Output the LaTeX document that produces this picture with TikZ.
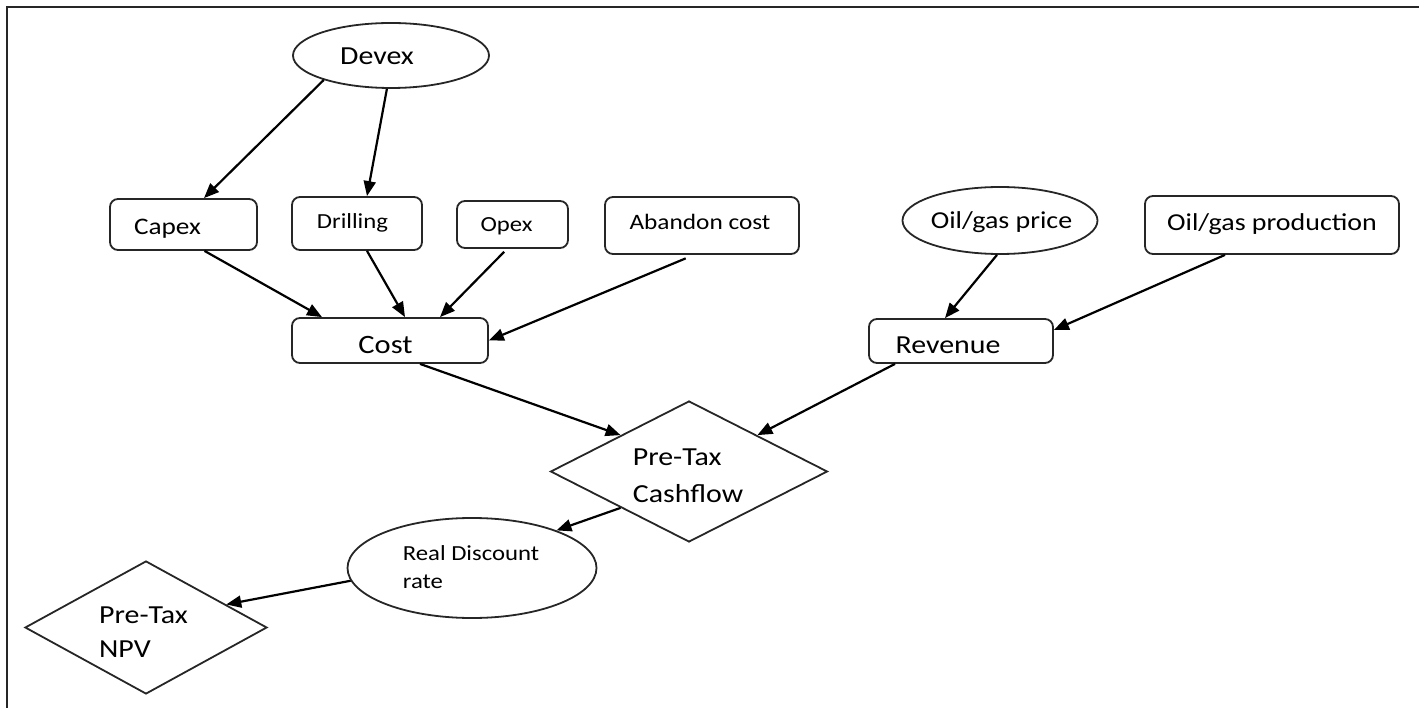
\documentclass[tikz,border=0pt]{standalone}
\usepackage{fontspec}
\setmainfont[FakeStretch=1.15]{Carlito}
\usetikzlibrary{shapes.geometric,arrows.meta}
\tikzset{
  box/.style={draw=black!85, line width=1.8pt, rounded corners=8pt, inner sep=0pt},
  oval/.style={draw=black!85, line width=1.8pt, ellipse, inner sep=0pt},
  dia/.style={draw=black!85, line width=1.8pt, diamond, inner sep=0pt},
  arr/.style={line width=2.2pt, -{Triangle[length=15pt,width=12pt]}},
  frame/.style={line width=2pt, black!85}
}
\newcommand{\fs}[2]{\fontsize{#1}{#2}\selectfont}
% single line text, shifted by (dx,dy) from the node centre
\newcommand{\tx}[3]{\kern#1\relax\makebox[0pt]{\raisebox{\dimexpr#2-0.32em\relax}[0pt][0pt]{#3}}\kern-#1\relax}
% multi line text block, left aligned
\newcommand{\txx}[3]{\kern#1\relax\makebox[0pt]{\raisebox{\dimexpr#2-0.25em\relax}[0pt][0pt]{\begin{tabular}[c]{@{}l@{}}#3\end{tabular}}}\kern-#1\relax}
\begin{document}
\begin{tikzpicture}[x=1pt,y=-1pt]
\useasboundingbox (0,0) rectangle (1419,708);
\draw[frame] (7,708) -- (7,7) -- (1419,7);

\node[oval, minimum width=196pt, minimum height=65pt, font=\fs{26}{30}] (devex) at (391,55.5) {\tx{-14pt}{-1pt}{Devex}};
\node[box, minimum width=147pt, minimum height=51pt, font=\fs{23.7}{28}] (capex) at (183.5,224.5) {\tx{-16pt}{-2pt}{Capex}};
\node[box, minimum width=130pt, minimum height=53pt, font=\fs{21.5}{26}] (drilling) at (357,223.5) {\tx{-4.5pt}{1.5pt}{Drilling}};
\node[box, minimum width=111pt, minimum height=47pt, font=\fs{21.5}{26}] (opex) at (512.5,224.5) {\tx{-6pt}{0pt}{Opex}};
\node[box, minimum width=194pt, minimum height=57pt, font=\fs{22}{26}] (abandon) at (702,225.5) {\tx{-2pt}{3pt}{Abandon cost}};
\node[oval, minimum width=195pt, minimum height=67pt, font=\fs{24.3}{28}] (price) at (1000,220.5) {\tx{1.5pt}{0pt}{Oil/gas price}};
\node[box, minimum width=254pt, minimum height=58pt, font=\fs{24.3}{28}] (production) at (1272,225) {\tx{0pt}{2pt}{Oil/gas production}};
\node[box, minimum width=196pt, minimum height=45pt, font=\fs{26.5}{30}] (cost) at (390,340.5) {\tx{-4.5pt}{-4.5pt}{Cost}};
\node[box, minimum width=184pt, minimum height=44pt, font=\fs{26}{30}] (revenue) at (961,341) {\tx{-13pt}{-4pt}{Revenue}};
\node[dia, minimum width=277pt, minimum height=141pt, font=\fs{26}{37}] (cashflow) at (689,471.5) {\txx{-1pt}{-5pt}{Pre-Tax\\Cashflow}};
\node[oval, minimum width=249pt, minimum height=100pt, font=\fs{21.5}{28}] (discount) at (472,568) {\txx{-1pt}{-1pt}{Real Discount\\rate}};
\node[dia, minimum width=242pt, minimum height=133pt, font=\fs{26}{34}] (npv) at (146,627.5) {\txx{-2.5pt}{-5.5pt}{Pre-Tax\\NPV}};

\draw[arr] (devex.200) -- ([xshift=20.5pt]capex.north);
\draw[arr] (devex.263) -- ([xshift=10pt]drilling.north);
\draw[arr] ([xshift=21pt]capex.south) -- ([xshift=-68pt]cost.north);
\draw[arr] ([xshift=10pt]drilling.south) -- ([xshift=15pt]cost.north);
\draw[arr, shorten <=4pt] ([xshift=-5.5pt]opex.south) -- ([xshift=50pt]cost.north);
\draw[arr, shorten <=9pt] ([xshift=-8pt]abandon.south) -- (cost.east);
\draw[arr] (price.265) -- ([xshift=-16pt]revenue.north);
\draw[arr] ([xshift=-47pt]production.south) -- ([yshift=11pt]revenue.east);
\draw[arr] ([xshift=30pt]cost.south) -- (cashflow.152);
\draw[arr] ([xshift=-66pt]revenue.south) -- (cashflow.28);
\draw[arr] (cashflow.208) -- (discount.24);
\draw[arr] (discount.186) -- (npv.16);
\end{tikzpicture}
\end{document}
